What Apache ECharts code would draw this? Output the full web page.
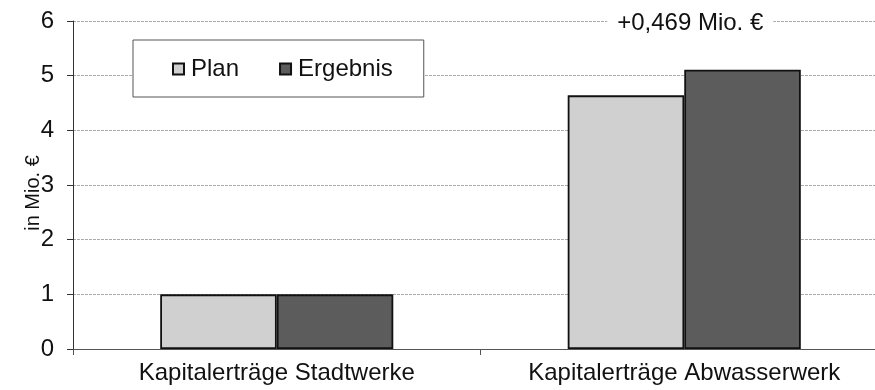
<!DOCTYPE html>
<html>
<head>
<meta charset="utf-8">
<script src="https://cdn.jsdelivr.net/npm/echarts@6/dist/echarts.min.js"></script>
<style>
  html, body { margin: 0; padding: 0; background: #fff; }
  #chart { width: 875px; height: 390px; }
</style>
</head>
<body>
<div id="chart"></div>
<script>
// Capital income: plan vs. result, in million euros
const categories = ['Kapitalerträge Stadtwerke', 'Kapitalerträge Abwasserwerk'];
const planValues = [1.0, 4.64];
const resultValues = [1.0, 5.109];
const seriesNames = ['Plan', 'Ergebnis'];
const yTicks = [0, 1, 2, 3, 4, 5, 6];

const FONT = 'Liberation Sans, Arial, sans-serif';
const chart = echarts.init(document.getElementById('chart'), null, { renderer: 'canvas' });

// Difference shown above the second group
const diff = resultValues[1] - planValues[1];
const diffText = '+' + diff.toFixed(3).replace('.', ',') + ' Mio. €';

const barStyle = (color) => ({ color: color, borderColor: '#111', borderWidth: 1.8 });

chart.setOption({
  animation: false,
  backgroundColor: '#fff',
  textStyle: { fontFamily: FONT },
  // the plot runs slightly past the right edge of the canvas
  grid: { left: 73, right: -13, top: 21, bottom: 41, containLabel: false, outerBoundsMode: 'none' },
  legend: {
    left: 133, top: 40,
    orient: 'horizontal',
    padding: [17, 31, 16, 39],
    itemGap: 40,
    itemWidth: 11, itemHeight: 11,
    icon: 'rect',
    backgroundColor: '#fff',
    borderColor: '#555',
    borderWidth: 1,
    textStyle: { fontFamily: FONT, fontSize: 24, color: '#111', padding: [0, 0, 0, 2] },
    data: seriesNames
  },
  xAxis: {
    type: 'category',
    data: categories,
    axisLine: { lineStyle: { color: '#555', width: 1 } },
    axisTick: { show: true, length: 6, lineStyle: { color: '#555' } },
    axisLabel: { interval: 0, fontFamily: FONT, fontSize: 24, color: '#111', margin: 12 }
  },
  yAxis: {
    type: 'value',
    min: yTicks[0], max: yTicks[yTicks.length - 1], interval: 1,
    name: 'in Mio. €',
    nameLocation: 'middle',
    nameGap: 30,
    nameMoveOverlap: false,
    nameRotate: 90,
    nameTextStyle: { fontFamily: FONT, fontSize: 20, color: '#111', padding: [0, 16, 0, 0] },
    axisLine: { show: true, lineStyle: { color: '#333' } },
    axisTick: { show: true, length: 6, lineStyle: { color: '#333' } },
    axisLabel: { fontFamily: FONT, fontSize: 24, color: '#111', margin: 19 },
    splitLine: { show: true, lineStyle: { color: '#aaa', type: [3, 1], width: 1 } }
  },
  series: [
    {
      name: seriesNames[0], type: 'bar', data: planValues,
      barWidth: '28.6%', barGap: '0%',
      itemStyle: barStyle('#d0d0d0')
    },
    {
      name: seriesNames[1], type: 'bar', data: resultValues,
      barWidth: '28.6%', barGap: '0%',
      itemStyle: barStyle('#5c5c5c')
    }
  ]
});

// Place the difference note on the top gridline over the second group
const anchor = chart.convertToPixel({ gridIndex: 0 }, [1, yTicks[yTicks.length - 1]]);
chart.setOption({
  graphic: [{
    type: 'text',
    x: anchor[0] + 6, y: anchor[1] + 2,
    style: {
      text: diffText,
      font: '24px ' + FONT,
      fill: '#111',
      align: 'center',
      verticalAlign: 'middle',
      backgroundColor: '#fff',
      padding: [2, 10, 2, 10]
    },
    z: 10
  }]
});
</script>
</body>
</html>
